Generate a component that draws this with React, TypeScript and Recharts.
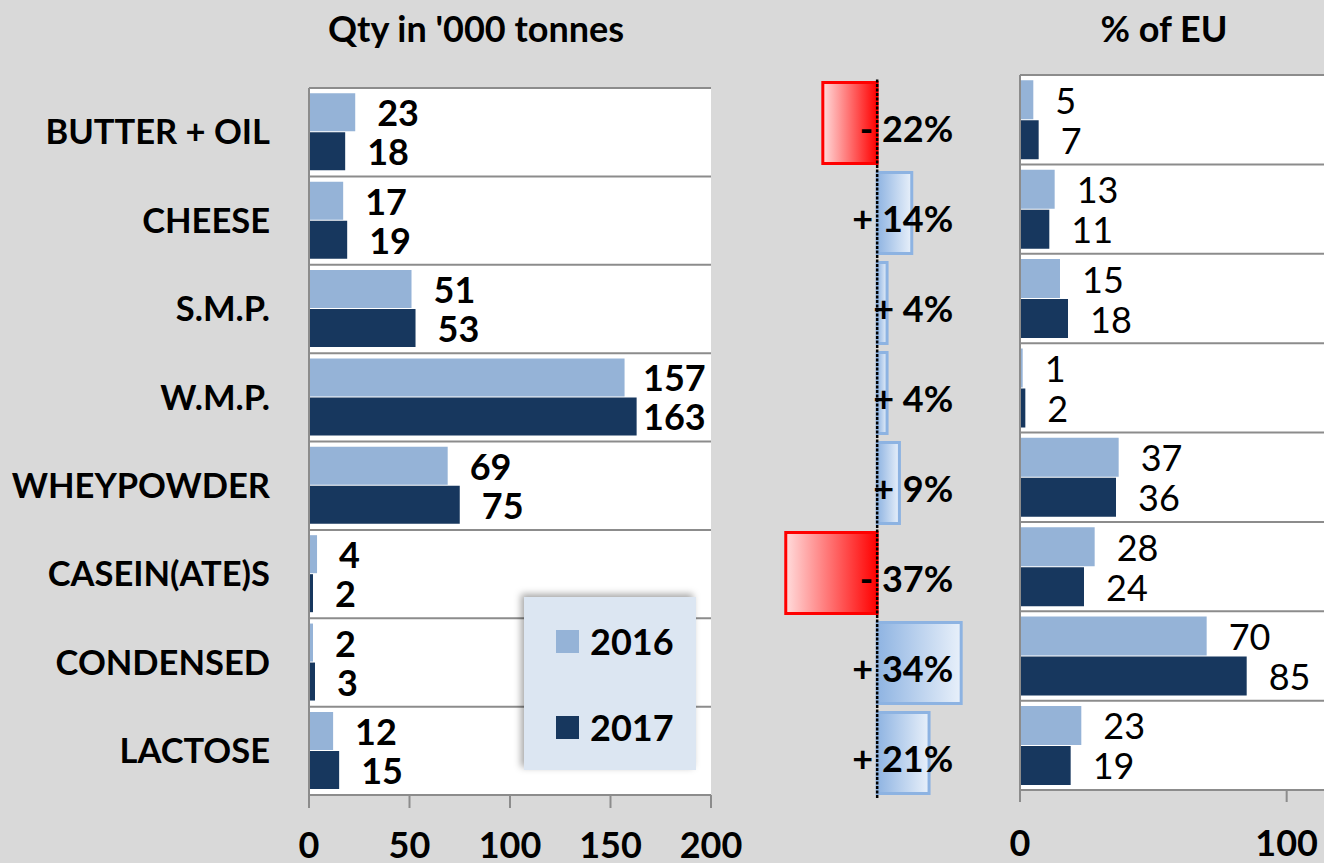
import { BarChart, Bar, XAxis, YAxis, LabelList, ReferenceLine, Legend, Cell, CartesianGrid } from 'recharts'

const FONT = 'Lato, "Open Sans", sans-serif'

const categories = ['BUTTER + OIL', 'CHEESE', 'S.M.P.', 'W.M.P.', 'WHEYPOWDER', 'CASEIN(ATE)S', 'CONDENSED', 'LACTOSE']
const qty2016 = [23, 17, 51, 157, 69, 4, 2, 12]
const qty2017 = [18, 19, 53, 163, 75, 2, 3, 15]
const changePct = [-22, 14, 4, 4, 9, -37, 34, 21]
const eu2016 = [5, 13, 15, 1, 37, 28, 70, 23]
const eu2017 = [7, 11, 18, 2, 36, 24, 85, 19]
const qtyTicks = [0, 50, 100, 150, 200]
const euTicks = [0, 100]
const seriesNames = ['2016', '2017']

const LIGHT = '#95b3d7'
const DARK = '#17375e'
const GRID = '#8c8c8c'
const QTY_RIGHT = 706

const qtyData = categories.map((c, i) => ({ name: c, y2016: qty2016[i], y2017: qty2017[i] }))
const euData = categories.map((c, i) => ({ name: c, y2016: eu2016[i], y2017: eu2017[i] }))
const changeData = categories.map((c, i) => ({ name: c, change: changePct[i] }))

const tickStyle = { fill: '#000', fontSize: 36, fontWeight: 700, fontFamily: FONT }
const catTickStyle = { fill: '#000', fontSize: 34.5, fontWeight: 700, fontFamily: FONT }

// separators sit on the category band edges, not on the band centres
const bandEdgeLines = ({ offset }: any) => {
    const n = categories.length
    return categories.map((_, i) => offset.top + (offset.height * i) / n)
}

const QtyLabel = (props: any) => {
    const { x, y, width, height, value } = props
    const end = x + width
    const w = String(value).length * 21
    const lx = Math.min(end + 22, QTY_RIGHT - w)
    return (
        <text x={lx} y={y + height / 2} dominantBaseline="central" fontSize={36} fontWeight={700} fontFamily={FONT} fill="#000">
            {value}
        </text>
    )
}

const EuLabel = (props: any) => {
    const { x, y, width, height, value } = props
    return (
        <text x={x + width + 22} y={y + height / 2} dominantBaseline="central" fontSize={36} fontFamily={FONT} fill="#000">
            {value}
        </text>
    )
}

const ChangeLabel = (props: any) => {
    const { x, y, width, height, value } = props
    const left = Math.min(x, x + width)
    const right = Math.max(x, x + width)
    const zero = value < 0 ? right : left
    const sign = value < 0 ? '-' : '+'
    return (
        <text x={zero + 76} y={y + height / 2 + 5} textAnchor="end" dominantBaseline="central" fontSize={36} fontWeight={700} fontFamily={FONT} fill="#000">
            {`${sign} ${Math.abs(value)}%`}
        </text>
    )
}

const LegendBox = ({ payload }: any) => (
    <div style={{ width: 172, height: 173, background: '#dce6f2', boxShadow: '-3px -3px 7px rgba(0,0,0,0.35)', position: 'relative' }}>
        {(payload || []).map((p: any, i: number) => (
            <div key={p.value} style={{ position: 'absolute', left: 32, top: 33 + i * 86, display: 'flex', alignItems: 'center' }}>
                <span style={{ width: 23, height: 23, background: p.color, marginRight: 11, display: 'inline-block' }} />
                <span style={{ fontFamily: FONT, fontWeight: 700, fontSize: 36, lineHeight: '23px', color: '#000' }}>{p.value}</span>
            </div>
        ))}
    </div>
)

export default function App() {
    return (
        <div style={{ position: 'absolute', left: 0, top: 0, width: 1324, height: 863, background: '#d9d9d9', overflow: 'hidden', fontFamily: FONT }}>
            <div style={{ position: 'absolute', left: 476, top: 10, transform: 'translateX(-50%)', whiteSpace: 'nowrap', fontSize: 36, fontWeight: 700, lineHeight: '36px' }}>
                Qty in '000 tonnes
            </div>
            <div style={{ position: 'absolute', left: 1164, top: 10, transform: 'translateX(-50%)', whiteSpace: 'nowrap', fontSize: 36, fontWeight: 700, lineHeight: '36px' }}>
                % of EU
            </div>

            {/* left: quantities */}
            <div style={{ position: 'absolute', left: 0, top: 0 }}>
                <BarChart width={760} height={863} data={qtyData} layout="vertical" margin={{ top: 88, right: 49, left: 0, bottom: 8 }} barCategoryGap="6%" barGap={1}>
                    <CartesianGrid vertical={false} fill="#fff" stroke={GRID} strokeWidth={2} horizontalCoordinatesGenerator={bandEdgeLines} />
                    <XAxis type="number" domain={[0, 200]} ticks={qtyTicks} height={60} tickSize={13} tickMargin={24} stroke={GRID} strokeWidth={2} tick={tickStyle} />
                    <YAxis type="category" dataKey="name" width={309} tickLine={false} tickSize={0} tickMargin={39} interval={0} stroke={GRID} strokeWidth={2} tick={catTickStyle} />
                    <Bar dataKey="y2016" name={seriesNames[0]} fill={LIGHT} isAnimationActive={false}>
                        <LabelList dataKey="y2016" content={QtyLabel} />
                    </Bar>
                    <Bar dataKey="y2017" name={seriesNames[1]} fill={DARK} isAnimationActive={false}>
                        <LabelList dataKey="y2017" content={QtyLabel} />
                    </Bar>
                    <Legend layout="vertical" align="center" verticalAlign="middle" wrapperStyle={{ left: 524, top: 597, width: 172 }} content={LegendBox} />
                </BarChart>
            </div>

            {/* middle: change */}
            <div style={{ position: 'absolute', left: 760, top: 0 }}>
                <BarChart width={230} height={863} data={changeData} layout="vertical" margin={{ top: 78, right: 14, left: 6, bottom: 65 }} barCategoryGap="5%">
                    <defs>
                        <linearGradient id="redGrad" x1="0" y1="0" x2="1" y2="0">
                            <stop offset="0%" stopColor="#ffdcdc" />
                            <stop offset="100%" stopColor="#ff0000" />
                        </linearGradient>
                        <linearGradient id="blueGrad" x1="0" y1="0" x2="1" y2="0">
                            <stop offset="0%" stopColor="#8fb4e2" />
                            <stop offset="100%" stopColor="#e8f0fa" />
                        </linearGradient>
                    </defs>
                    <XAxis type="number" domain={[-45, 40]} hide />
                    <YAxis type="category" dataKey="name" hide />
                    <Bar dataKey="change" isAnimationActive={false} strokeWidth={3}>
                        {changeData.map((d) => (
                            <Cell key={d.name} fill={d.change < 0 ? 'url(#redGrad)' : 'url(#blueGrad)'} stroke={d.change < 0 ? '#ff0000' : '#8db3e2'} />
                        ))}
                        <LabelList dataKey="change" content={ChangeLabel} />
                    </Bar>
                    <ReferenceLine x={0} stroke="#000" strokeWidth={2.5} strokeDasharray="3 1.5" />
                </BarChart>
            </div>

            {/* right: % of EU */}
            <div style={{ position: 'absolute', left: 990, top: 0 }}>
                <BarChart width={334} height={863} data={euData} layout="vertical" margin={{ top: 75, right: 0, left: 0, bottom: 8 }} barCategoryGap="6%" barGap={1}>
                    <CartesianGrid vertical={false} fill="#fff" stroke={GRID} strokeWidth={2} horizontalCoordinatesGenerator={bandEdgeLines} />
                    <XAxis type="number" domain={[0, 114]} ticks={euTicks} height={65} tickSize={12} tickMargin={28} stroke={GRID} strokeWidth={2} tick={tickStyle} />
                    <YAxis type="category" dataKey="name" width={30} tickLine={false} tick={false} stroke={GRID} strokeWidth={2} />
                    <Bar dataKey="y2016" name={seriesNames[0]} fill={LIGHT} isAnimationActive={false}>
                        <LabelList dataKey="y2016" content={EuLabel} />
                    </Bar>
                    <Bar dataKey="y2017" name={seriesNames[1]} fill={DARK} isAnimationActive={false}>
                        <LabelList dataKey="y2017" content={EuLabel} />
                    </Bar>
                </BarChart>
            </div>
        </div>
    )
}
